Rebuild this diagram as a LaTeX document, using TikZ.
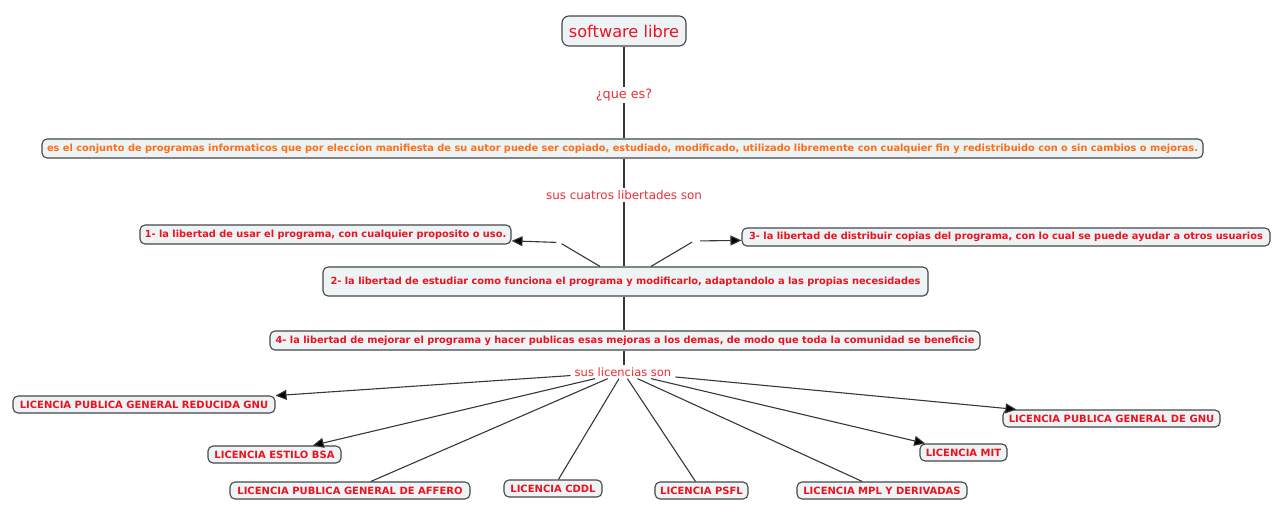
\documentclass[tikz,border=0pt]{standalone}
\usepackage{fontspec}
\setmainfont{DejaVu Sans}
\usetikzlibrary{arrows.meta}
\definecolor{nodered}{RGB}{236,18,30}
\definecolor{deforange}{RGB}{255,110,20}
\definecolor{lblred}{RGB}{236,45,55}
\definecolor{boxfill}{RGB}{238,243,246}
\definecolor{boxline}{RGB}{70,70,70}
\definecolor{connc}{RGB}{55,55,55}
\tikzset{
  cbox/.style={draw=boxline, fill=boxfill, rounded corners=5pt, line width=1.1pt,
    inner sep=0pt, align=center, text=nodered},
  bt/.style={font=\fontsize{#1}{#1}\selectfont\bfseries},
  lbl/.style={text=lblred, inner xsep=4pt, inner ysep=2pt, fill=white},
  conn/.style={draw=connc, line width=1.1pt},
  arr/.style={conn, -{Triangle[length=11pt,width=10pt,fill=black]}},
  emptyph/.style={inner sep=0pt, minimum width=#1, minimum height=2pt},
}
\begin{document}
\begin{tikzpicture}[x=1pt,y=-1pt]
\useasboundingbox (0,0) rectangle (1280,516);
% concepts
\node[cbox, rounded corners=7pt, minimum width=124pt, minimum height=30pt,
  font=\fontsize{16.2}{16.2}\selectfont] (sl) at (624,31) {software libre};
\node[cbox, minimum width=1161pt, minimum height=19pt, bt=9.8, text=deforange]
  (def) at (622.5,148.5) {es el conjunto de programas informaticos que por eleccion manifiesta de su autor puede ser copiado, estudiado, modificado, utilizado libremente con cualquier fin y redistribuido con o sin cambios o mejoras.};
\node[cbox, minimum width=371pt, minimum height=19pt, bt=9.8] (n1) at (325.5,234.5)
  {1- la libertad de usar el programa, con cualquier proposito o uso.};
\node[cbox, minimum width=528pt, minimum height=18pt, bt=9.8] (n3) at (1006,237)
  {3- la libertad de distribuir copias del programa, con lo cual se puede ayudar a otros usuarios};
\node[cbox, minimum width=605pt, minimum height=29pt, bt=9.8] (n2) at (625.5,281.5)
  {2- la libertad de estudiar como funciona el programa y modificarlo, adaptandolo a las propias necesidades};
\node[cbox, minimum width=710pt, minimum height=19pt, bt=9.8] (n4) at (625,340.5)
  {4- la libertad de mejorar el programa y hacer publicas esas mejoras a los demas, de modo que toda la comunidad se beneficie};
\node[cbox, minimum width=262pt, minimum height=17pt, bt=10] (g1) at (144,404.5) {LICENCIA PUBLICA GENERAL REDUCIDA GNU};
\node[cbox, minimum width=133pt, minimum height=17pt, bt=10] (bsa) at (274.5,454.5) {LICENCIA ESTILO BSA};
\node[cbox, minimum width=240pt, minimum height=17pt, bt=10] (aff) at (350,490.5) {LICENCIA PUBLICA GENERAL DE AFFERO};
\node[cbox, minimum width=98pt, minimum height=17pt, bt=10] (cddl) at (553,488.5) {LICENCIA CDDL};
\node[cbox, minimum width=93pt, minimum height=17pt, bt=10] (psfl) at (701.5,490.5) {LICENCIA PSFL};
\node[cbox, minimum width=170pt, minimum height=17pt, bt=10] (mpl) at (882,490.5) {LICENCIA MPL Y DERIVADAS};
\node[cbox, minimum width=87pt, minimum height=17pt, bt=10] (mit) at (963.5,452.5) {LICENCIA MIT};
\node[cbox, minimum width=217pt, minimum height=17pt, bt=10] (gnu) at (1111.5,418.5) {LICENCIA PUBLICA GENERAL DE GNU};
% linking phrases
\node[lbl, font=\fontsize{12.8}{12.8}\selectfont] (q) at (624,95) {¿que es?};
\node[lbl, font=\fontsize{11.9}{11.9}\selectfont] (c) at (624,195) {sus cuatros libertades son};
\node[lbl, font=\fontsize{11.5}{11.5}\selectfont] (lic) at (623,372) {sus licencias son};
\node[emptyph=6pt] (e1) at (559.5,242.5) {};
\node[emptyph=12pt] (e3) at (694,241) {};
% connectors
\draw[conn] (sl.south) -- (q.north);
\draw[conn] (q.south) -- (q.south |- def.north);
\draw[conn] (q.south |- def.south) -- (c.north);
\draw[conn] (c.south) -- (c.south |- n2.north);
\draw[conn] (c.south |- n2.south) -- (c.south |- n4.north);
\draw[conn] (c.south |- n4.south) -- (c.south |- lic.north);
\draw[conn] (n2) -- (e1);
\draw[arr] (e1) -- (n1);
\draw[conn] (n2) -- (e3);
\draw[arr] (e3) -- (n3);
\draw[arr] (lic) -- (g1);
\draw[arr] (lic) -- (bsa);
\draw[conn] (lic) -- (aff);
\draw[conn] (lic) -- (cddl);
\draw[conn] (lic) -- (psfl);
\draw[conn] (lic) -- (mpl);
\draw[arr] (lic) -- (mit);
\draw[arr] (lic) -- (gnu);
\end{tikzpicture}
\end{document}
